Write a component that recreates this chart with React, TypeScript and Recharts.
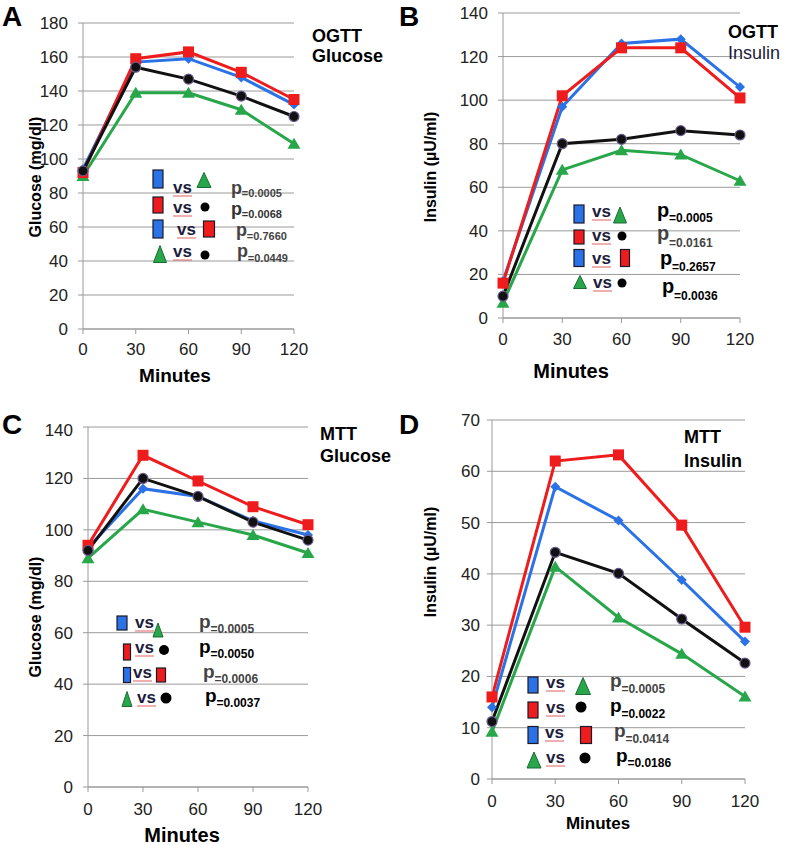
import React from 'react';
import { LineChart, Line, XAxis, YAxis, CartesianGrid } from 'recharts';

const FONT = '"Liberation Sans", Arial, sans-serif';

const BLUE = '#2a72e6';
const RED = '#ee1c1c';
const BLACK = '#111111';
const GREEN = '#28a64a';

// time points (minutes)
const MINUTES = [0, 30, 60, 90, 120];

// A: OGTT glucose (mg/dl)
const ogttGlucoseBlue = [94, 157, 159, 148, 132];
const ogttGlucoseRed = [92, 159, 163, 151, 135];
const ogttGlucoseBlack = [93, 154, 147, 137, 125];
const ogttGlucoseGreen = [90, 139, 139, 129, 109];

// B: OGTT insulin (uU/ml)
const ogttInsulinBlue = [17, 97, 126, 128, 106];
const ogttInsulinRed = [16, 102, 124, 124, 101];
const ogttInsulinBlack = [10, 80, 82, 86, 84];
const ogttInsulinGreen = [7, 68, 77, 75, 63];

// C: MTT glucose (mg/dl)
const mttGlucoseBlue = [93, 116, 113, 103.5, 98];
const mttGlucoseRed = [94, 129, 119, 109, 102];
const mttGlucoseBlack = [92, 120, 113, 103, 96];
const mttGlucoseGreen = [89, 108, 103, 98, 91];

// D: MTT insulin (uU/ml)
const mttInsulinBlue = [14, 57, 50.4, 38.8, 26.8];
const mttInsulinRed = [16, 62, 63.2, 49.5, 29.6];
const mttInsulinBlack = [11.2, 44.2, 40.1, 31.2, 22.6];
const mttInsulinGreen = [9.2, 41.4, 31.5, 24.4, 16.1];

const glucoseTicksA = [0, 20, 40, 60, 80, 100, 120, 140, 160, 180];
const insulinTicksB = [0, 20, 40, 60, 80, 100, 120, 140];
const glucoseTicksC = [0, 20, 40, 60, 80, 100, 120, 140];
const insulinTicksD = [0, 10, 20, 30, 40, 50, 60, 70];

// comparisons shown in each panel's key
const COMPARISONS = [
  ['blue', 'green'],
  ['red', 'black'],
  ['blue', 'red'],
  ['green', 'black'],
];
const pOgttGlucose = ['0.0005', '0.0068', '0.7660', '0.0449'];
const pOgttInsulin = ['0.0005', '0.0161', '0.2657', '0.0036'];
const pMttGlucose = ['0.0005', '0.0050', '0.0006', '0.0037'];
const pMttInsulin = ['0.0005', '0.0022', '0.0414', '0.0186'];

const build = (b: number[], r: number[], k: number[], g: number[]) =>
  MINUTES.map((m, i) => ({ min: m, blue: b[i], red: r[i], black: k[i], green: g[i] }));

const dataA = build(ogttGlucoseBlue, ogttGlucoseRed, ogttGlucoseBlack, ogttGlucoseGreen);
const dataB = build(ogttInsulinBlue, ogttInsulinRed, ogttInsulinBlack, ogttInsulinGreen);
const dataC = build(mttGlucoseBlue, mttGlucoseRed, mttGlucoseBlack, mttGlucoseGreen);
const dataD = build(mttInsulinBlue, mttInsulinRed, mttInsulinBlack, mttInsulinGreen);

// marker renderers
const diamondDot = (p: any) => (
  <polygon
    key={`d${p.index}`}
    points={`${p.cx},${p.cy - 5} ${p.cx + 5},${p.cy} ${p.cx},${p.cy + 5} ${p.cx - 5},${p.cy}`}
    fill={BLUE}
  />
);
const squareDot = (p: any) => (
  <rect key={`s${p.index}`} x={p.cx - 5.5} y={p.cy - 5.5} width={11} height={11} fill={RED} />
);
const circleDot = (p: any) => (
  <circle key={`c${p.index}`} cx={p.cx} cy={p.cy} r={5} fill={BLACK} stroke="#6a5a8c" strokeWidth={1.2} />
);
const triangleDot = (p: any) => (
  <polygon
    key={`t${p.index}`}
    points={`${p.cx},${p.cy - 6} ${p.cx + 6.5},${p.cy + 5} ${p.cx - 6.5},${p.cy + 5}`}
    fill={GREEN}
  />
);

interface PanelProps {
  left: number;
  top: number;
  width: number;
  height: number;
  margin: { top: number; right: number; bottom: number; left: number };
  data: any[];
  yMax: number;
  yTicks: number[];
  xTickMargin: number;
  yTickMargin: number;
}

function Panel({ left, top, width, height, margin, data, yMax, yTicks, xTickMargin, yTickMargin }: PanelProps) {
  const tick = { fontSize: 17, fill: '#222', fontFamily: FONT };
  return (
    <div style={{ position: 'absolute', left, top }}>
      <LineChart width={width} height={height} data={data} margin={margin}>
        <CartesianGrid vertical={false} stroke="#9a9a9a" />
        <XAxis
          type="number"
          dataKey="min"
          domain={[0, 120]}
          ticks={MINUTES}
          height={30}
          tick={tick}
          tickSize={5}
          tickMargin={xTickMargin}
          stroke="#9a9a9a"
        />
        <YAxis
          type="number"
          domain={[0, yMax]}
          ticks={yTicks}
          width={45}
          tick={tick}
          tickSize={5}
          tickMargin={yTickMargin}
          stroke="#9a9a9a"
        />
        <Line dataKey="green" stroke={GREEN} strokeWidth={3} dot={triangleDot} isAnimationActive={false} />
        <Line dataKey="blue" stroke={BLUE} strokeWidth={3} dot={diamondDot} isAnimationActive={false} />
        <Line dataKey="red" stroke={RED} strokeWidth={3} dot={squareDot} isAnimationActive={false} />
        <Line dataKey="black" stroke={BLACK} strokeWidth={3} dot={circleDot} isAnimationActive={false} />
      </LineChart>
    </div>
  );
}

// key layout: [s1x, s1y, s1w, s1h, vsX, vsY, s2x, s2y, s2w, s2h, pX, pY, subY]
type Row = number[];
const keyA: Row[] = [
  [158, 179, 10, 18, 173, 193, 204, 180, 14, 15, 231, 194, 197],
  [158, 205, 10, 16, 173, 213, 205, 207, 9, 9, 231, 215, 218],
  [158, 229, 10, 18, 177, 235, 209, 229, 11, 16, 236, 236, 240],
  [160, 254, 13, 17, 173, 257, 205, 255, 9, 9, 237, 257, 262],
];
const keyB: Row[] = [
  [579, 214, 10, 18, 592, 217, 620, 215, 13, 16, 657, 217, 222],
  [579, 237, 10, 14, 592, 241, 622, 236, 9, 9, 657, 240, 247],
  [579, 258, 10, 17, 592, 264, 625, 258, 9, 17, 660, 265, 271],
  [580, 282, 13, 13, 593, 288, 622, 283, 9, 9, 662, 293, 300],
];
const keyC: Row[] = [
  [122, 623, 10, 14, 135, 628, 158, 630, 10, 14, 199, 628, 633],
  [127, 652, 7, 16, 135, 653, 164, 650, 10, 10, 199, 653, 658],
  [127, 675, 7, 15, 133, 678, 161, 675, 9, 14, 203, 678, 683],
  [127, 699, 10, 15, 137, 703, 166, 698, 11, 11, 205, 702, 707],
];
const keyD: Row[] = [
  [533, 685, 10, 16, 546, 688, 583, 686, 15, 17, 610, 687, 693],
  [533, 710, 10, 16, 546, 713, 581, 707, 11, 11, 610, 712, 718],
  [533, 735, 10, 17, 545, 738, 586, 735, 11, 17, 614, 737, 743],
  [534, 760, 14, 16, 546, 763, 585, 758, 11, 11, 616, 762, 767],
];

function KeySym({ kind, x, y, w, h }: { kind: string; x: number; y: number; w: number; h: number }) {
  if (kind === 'blue' || kind === 'red') {
    return (
      <rect x={x - w / 2} y={y - h / 2} width={w} height={h} fill={kind === 'blue' ? BLUE : RED} stroke="#1a1a2a" strokeWidth={1.2} />
    );
  }
  if (kind === 'green') {
    return (
      <polygon
        points={`${x},${y - h / 2} ${x + w / 2},${y + h / 2} ${x - w / 2},${y + h / 2}`}
        fill={GREEN}
        stroke="#1d6b34"
        strokeWidth={1}
      />
    );
  }
  return <circle cx={x} cy={y} r={w / 2} fill="#000" />;
}

function StatsKey({ rows, pValues, pSize, subSize, pColors }: { rows: Row[]; pValues: string[]; pSize: number; subSize: number; pColors: string[] }) {
  return (
    <g>
      {rows.map((r, i) => {
        const [a, b] = COMPARISONS[i];
        return (
          <g key={i}>
            <KeySym kind={a} x={r[0]} y={r[1]} w={r[2]} h={r[3]} />
            <text x={r[4]} y={r[5]} fontSize={17} fontWeight="bold" fill="#1c1c3c">vs</text>
            <line x1={r[4]} x2={r[4] + 19} y1={r[5] + 3} y2={r[5] + 3} stroke="#e06060" strokeWidth={1} />
            <KeySym kind={b} x={r[6]} y={r[7]} w={r[8]} h={r[9]} />
            <text x={r[10]} y={r[11]} fontSize={pSize} fontWeight="bold" fill={pColors[i]}>p</text>
            <text x={r[10] + pSize * 0.6} y={r[12]} fontSize={subSize} fontWeight="bold" fill={pColors[i]}>
              {`=${pValues[i]}`}
            </text>
          </g>
        );
      })}
    </g>
  );
}

export default function App() {
  return (
    <div style={{ position: 'absolute', left: 0, top: 0, width: 786, height: 845, background: '#fff', fontFamily: FONT }}>
      <Panel left={0} top={0} width={393} height={420} margin={{ top: 23, right: 99, bottom: 61, left: 38 }}
        data={dataA} yMax={180} yTicks={glucoseTicksA} xTickMargin={9} yTickMargin={10} />
      <Panel left={393} top={0} width={393} height={420} margin={{ top: 13, right: 46, bottom: 72, left: 65 }}
        data={dataB} yMax={140} yTicks={insulinTicksB} xTickMargin={10} yTickMargin={10} />
      <Panel left={0} top={420} width={393} height={425} margin={{ top: 7, right: 85, bottom: 28, left: 43 }}
        data={dataC} yMax={140} yTicks={glucoseTicksC} xTickMargin={11} yTickMargin={10} />
      <Panel left={393} top={410} width={393} height={435} margin={{ top: 10, right: 41, bottom: 36, left: 54 }}
        data={dataD} yMax={70} yTicks={insulinTicksD} xTickMargin={11} yTickMargin={7} />

      <svg width={786} height={845} style={{ position: 'absolute', left: 0, top: 0, pointerEvents: 'none' }} fontFamily={FONT}>
        {/* panel letters */}
        <text x={2} y={26} fontSize={28} fontWeight="bold" fill="#000">A</text>
        <text x={399} y={26} fontSize={28} fontWeight="bold" fill="#000">B</text>
        <text x={2} y={434} fontSize={28} fontWeight="bold" fill="#000">C</text>
        <text x={399} y={434} fontSize={28} fontWeight="bold" fill="#000">D</text>

        {/* titles */}
        <text x={312} y={42} fontSize={18} fontWeight="bold" fill="#000">OGTT</text>
        <text x={312} y={62} fontSize={18} fontWeight="bold" fill="#000">Glucose</text>
        <text x={728} y={38} fontSize={18} fontWeight="bold" fill="#000">OGTT</text>
        <text x={728} y={59} fontSize={18} fill="#1a1a3a">Insulin</text>
        <text x={320} y={440} fontSize={18} fontWeight="bold" fill="#000">MTT</text>
        <text x={320} y={462} fontSize={18} fontWeight="bold" fill="#000">Glucose</text>
        <text x={684} y={443} fontSize={18} fontWeight="bold" fill="#000">MTT</text>
        <text x={684} y={467} fontSize={18} fontWeight="bold" fill="#000">Insulin</text>

        {/* axis titles */}
        <text transform="translate(35,177) rotate(-90)" textAnchor="middle" dominantBaseline="central" fontSize={16} fontWeight="bold" fill="#000">Glucose (mg/dl)</text>
        <text transform="translate(430,167) rotate(-90)" textAnchor="middle" dominantBaseline="central" fontSize={16} fontWeight="bold" fill="#000">Insulin (µU/ml)</text>
        <text transform="translate(35,617) rotate(-90)" textAnchor="middle" dominantBaseline="central" fontSize={16} fontWeight="bold" fill="#000">Glucose (mg/dl)</text>
        <text transform="translate(430,562) rotate(-90)" textAnchor="middle" dominantBaseline="central" fontSize={16} fontWeight="bold" fill="#000">Insulin (µU/ml)</text>

        <text x={175} y={382} textAnchor="middle" fontSize={19} fontWeight="bold" fill="#000">Minutes</text>
        <text x={571} y={378} textAnchor="middle" fontSize={20} fontWeight="bold" fill="#000">Minutes</text>
        <text x={182} y={842} textAnchor="middle" fontSize={20} fontWeight="bold" fill="#000">Minutes</text>
        <text x={598} y={829} textAnchor="middle" fontSize={17} fontWeight="bold" fill="#000">Minutes</text>

        {/* stats keys */}
        <StatsKey rows={keyA} pValues={pOgttGlucose} pSize={18} subSize={11} pColors={['#444', '#333', '#444', '#444']} />
        <StatsKey rows={keyB} pValues={pOgttInsulin} pSize={20} subSize={12} pColors={['#000', '#444', '#000', '#000']} />
        <StatsKey rows={keyC} pValues={pMttGlucose} pSize={19} subSize={12} pColors={['#444', '#000', '#444', '#000']} />
        <StatsKey rows={keyD} pValues={pMttInsulin} pSize={19} subSize={12} pColors={['#444', '#000', '#444', '#000']} />
      </svg>
    </div>
  );
}
